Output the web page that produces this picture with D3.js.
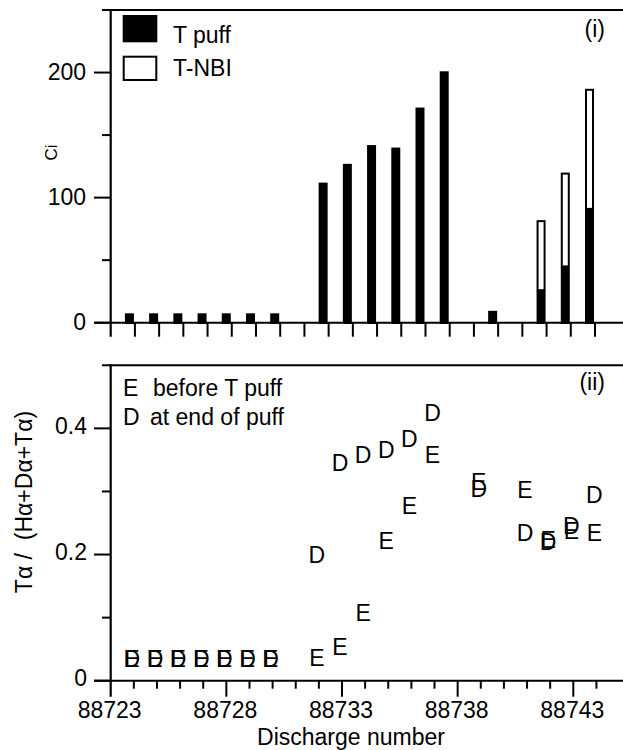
<!DOCTYPE html>
<html>
<head>
<meta charset="utf-8">
<script src="https://cdn.jsdelivr.net/npm/d3@7"></script>
<style>
  html, body { margin: 0; padding: 0; background: #fff; }
  svg { display: block; }
  text { font-family: "Liberation Sans", Arial, Helvetica, sans-serif; fill: #000; }
</style>
</head>
<body>
<svg id="chart" width="623" height="750"></svg>
<script>
// Panel (i): tritium injected per discharge (Ci)
const puffShots = [88724, 88725, 88726, 88727, 88728, 88729, 88730,
                   88732, 88733, 88734, 88735, 88736, 88737,
                   88739, 88741, 88742, 88743];
const puffCi    = [7.5, 7.5, 7.5, 7.5, 7.5, 7.5, 7.5,
                   112, 127, 142, 140, 172, 201,
                   9.5, 26, 45, 91];
const nbiCi     = [0, 0, 0, 0, 0, 0, 0,
                   0, 0, 0, 0, 0, 0,
                   0, 56, 75, 96];

// Panel (ii): tritium fraction of the Balmer-alpha light
const ratioShots = [88724, 88725, 88726, 88727, 88728, 88729, 88730,
                    88732, 88733, 88734, 88735, 88736, 88737,
                    88739, 88741, 88742, 88743, 88744];
const ratioE = [0.035, 0.035, 0.035, 0.035, 0.035, 0.035, 0.035,
                0.036, 0.054, 0.107, 0.222, 0.278, 0.358,
                0.316, 0.302, 0.224, 0.237, 0.234];
const ratioD = [0.035, 0.035, 0.035, 0.035, 0.035, 0.035, 0.035,
                0.200, 0.346, 0.358, 0.366, 0.384, 0.424,
                0.304, 0.234, 0.221, 0.245, 0.294];

const ciTicks = [0, 100, 200];
const ciMinor = [50, 150];
const ratioTicks = [0, 0.2, 0.4];
const ratioMinor = [0.1, 0.3];
const shotLabels = [88723, 88728, 88733, 88738, 88743];

const svg = d3.select("#chart");
const W = 623;
const FS = 23;
const axisX = 110.7;

// ---------- scales ----------
const xTop = d3.scaleLinear().domain([88723, 88743]).range([axisX, 595]);
const yTop = d3.scaleLinear().domain([0, 250]).range([322.7, 10]);
const xBot = d3.scaleLinear().domain([88723, 88743]).range([axisX, 573.3]);
const yBot = d3.scaleLinear().domain([0, 0.5]).range([680.7, 365.3]);

function line(g, x1, y1, x2, y2, w) {
  g.append("line").attr("x1", x1).attr("y1", y1).attr("x2", x2).attr("y2", y2)
    .attr("stroke", "#000").attr("stroke-width", w || 2);
}

// ---------- panel (i) ----------
const panelA = svg.append("g");

// bars: puff (filled) with T-NBI (open) stacked above
const barW = 9;
panelA.selectAll("rect.puff").data(puffShots).join("rect")
  .attr("class", "puff")
  .attr("x", d => xTop(d) - barW - 1)
  .attr("width", barW)
  .attr("y", (d, i) => yTop(puffCi[i]))
  .attr("height", (d, i) => yTop(0) + 1.3 - yTop(puffCi[i]))
  .attr("fill", "#000");

panelA.selectAll("rect.nbi").data(puffShots.filter((d, i) => nbiCi[i] > 0)).join("rect")
  .attr("class", "nbi")
  .attr("x", d => xTop(d) - barW)
  .attr("width", barW - 2)
  .attr("y", d => { const i = puffShots.indexOf(d); return yTop(puffCi[i] + nbiCi[i]) + 1; })
  .attr("height", d => { const i = puffShots.indexOf(d); return yTop(puffCi[i]) - yTop(puffCi[i] + nbiCi[i]) - 1; })
  .attr("fill", "#fff").attr("stroke", "#000").attr("stroke-width", 2);

// axes
line(panelA, 102, yTop(250), W, yTop(250));          // top frame
line(panelA, 94, yTop(0), W, yTop(0));                // baseline
line(panelA, axisX, yTop(250) - 1, axisX, yTop(0) + 14, 2.2);
ciTicks.forEach(v => line(panelA, 94, yTop(v), axisX, yTop(v)));
ciMinor.forEach(v => line(panelA, 102, yTop(v), axisX, yTop(v)));
d3.range(88724, 88744).forEach(s => line(panelA, xTop(s), yTop(0), xTop(s), yTop(0) + 14));

panelA.selectAll("text.yl").data(ciTicks).join("text")
  .attr("class", "yl")
  .attr("x", 86).attr("y", d => yTop(d) + 7.5)
  .attr("text-anchor", "end").attr("font-size", FS)
  .text(d => d);

panelA.append("text")
  .attr("transform", "translate(57,152.5) rotate(-90)")
  .attr("text-anchor", "middle").attr("font-size", 17)
  .text("Ci");

panelA.append("text").attr("x", 605).attr("y", 37).attr("text-anchor", "end")
  .attr("font-size", FS).text("(i)");

// legend
panelA.append("rect").attr("x", 122.7).attr("y", 15).attr("width", 34.6).attr("height", 27.3).attr("fill", "#000");
panelA.append("rect").attr("x", 123.7).attr("y", 56.7).attr("width", 32.6).attr("height", 23.3)
  .attr("fill", "#fff").attr("stroke", "#000").attr("stroke-width", 2);
panelA.append("text").attr("x", 173).attr("y", 43).attr("font-size", FS).text("T puff");
panelA.append("text").attr("x", 173).attr("y", 75.7).attr("font-size", FS).text("T-NBI");

// ---------- panel (ii) ----------
const panelB = svg.append("g");

line(panelB, 102, yBot(0.5), W, yBot(0.5));           // top frame
line(panelB, 94, yBot(0), W, yBot(0));                // baseline
line(panelB, axisX, yBot(0.5) - 1, axisX, yBot(0) + 16, 2.2);
ratioTicks.forEach(v => line(panelB, 94, yBot(v), axisX, yBot(v)));
ratioMinor.forEach(v => line(panelB, 102, yBot(v), axisX, yBot(v)));
d3.range(88724, 88745).forEach(s => {
  const major = shotLabels.includes(s);
  line(panelB, xBot(s), yBot(0), xBot(s), yBot(0) + (major ? 16 : 8));
});

panelB.selectAll("text.yl").data(ratioTicks).join("text")
  .attr("class", "yl")
  .attr("x", 87).attr("y", d => yBot(d) + 5.5)
  .attr("text-anchor", "end").attr("font-size", FS)
  .text(d => d === 0 ? "0" : d3.format(".1f")(d));

panelB.selectAll("text.xl").data(shotLabels).join("text")
  .attr("class", "xl")
  .attr("x", d => xBot(d) - 1).attr("y", 717.5)
  .attr("text-anchor", "middle").attr("font-size", FS)
  .text(d => d);

panelB.append("text").attr("x", 351).attr("y", 745)
  .attr("text-anchor", "middle").attr("font-size", FS).text("Discharge number");

panelB.append("text")
  .attr("transform", "translate(32,502) rotate(-90)")
  .attr("text-anchor", "middle").attr("font-size", FS)
  .attr("xml:space", "preserve").style("white-space", "pre")
  .text("T\u03B1 /  (H\u03B1+D\u03B1+T\u03B1)");

panelB.append("text").attr("x", 605).attr("y", 390).attr("text-anchor", "end")
  .attr("font-size", FS).text("(ii)");

// markers: letters E and D placed at the data values
const capOff = 0.358 * FS;
panelB.selectAll("text.e").data(ratioShots).join("text")
  .attr("class", "e")
  .attr("x", d => xBot(d) - 2).attr("y", (d, i) => yBot(ratioE[i]) + capOff)
  .attr("text-anchor", "middle").attr("font-size", FS).text("E");
panelB.selectAll("text.d").data(ratioShots).join("text")
  .attr("class", "d")
  .attr("x", d => xBot(d) - 2).attr("y", (d, i) => yBot(ratioD[i]) + capOff)
  .attr("text-anchor", "middle").attr("font-size", FS).text("D");

// legend
panelB.append("text").attr("x", 123).attr("y", 396).attr("font-size", FS).text("E");
panelB.append("text").attr("x", 153).attr("y", 396).attr("font-size", FS).text("before T puff");
panelB.append("text").attr("x", 123).attr("y", 425).attr("font-size", FS).text("D");
panelB.append("text").attr("x", 150).attr("y", 425).attr("font-size", FS).text("at end of puff");
</script>
</body>
</html>
